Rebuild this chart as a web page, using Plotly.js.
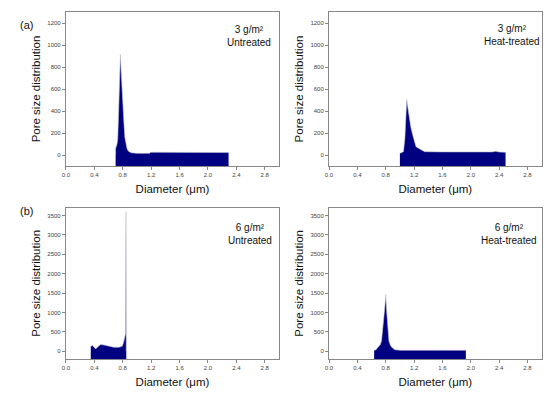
<!DOCTYPE html>
<html>
<head>
<meta charset="utf-8">
<script src="https://cdn.plot.ly/plotly-3.0.1.min.js"></script>
<style>html,body{margin:0;padding:0;background:#fff;}#chart{width:554px;height:395px;}</style>
</head>
<body>
<div id="chart"></div>
<script>
// Panel (a) left: 3 g/m2 untreated
const a1_x = [0.70, 0.70, 0.72, 0.73, 0.745, 0.755, 0.767, 0.775, 0.785, 0.795, 0.805, 0.818, 0.83, 0.845, 0.86, 0.88, 0.92, 1.0, 1.18, 1.19, 1.6, 2.0, 2.29];
const a1_y = [0, 60, 100, 150, 450, 700, 918, 800, 650, 550, 400, 280, 160, 90, 60, 35, 20, 15, 15, 25, 25, 24, 22];
// Panel (a) right: 3 g/m2 heat-treated
const a2_x = [1.00, 1.03, 1.05, 1.07, 1.085, 1.096, 1.11, 1.133, 1.155, 1.18, 1.205, 1.227, 1.28, 1.35, 1.6, 2.0, 2.3, 2.35, 2.4, 2.49];
const a2_y = [15, 20, 30, 150, 400, 505, 440, 336, 250, 183, 120, 76, 55, 30, 28, 27, 28, 33, 27, 25];
// Panel (b) left: 6 g/m2 untreated
const b1_x = [0.350, 0.373, 0.396, 0.420, 0.452, 0.490, 0.536, 0.606, 0.676, 0.746, 0.793, 0.812, 0.830, 0.840, 0.846, 0.850];
const b1_y = [128, 146, 103, 60, 120, 172, 163, 128, 103, 103, 128, 231, 446, 460, 3600, 0];
// Panel (b) right: 6 g/m2 heat-treated
const b2_x = [0.637, 0.66, 0.684, 0.72, 0.74, 0.763, 0.781, 0.795, 0.80, 0.805, 0.814, 0.828, 0.846, 0.87, 0.893, 0.93, 1.0, 1.5, 1.93];
const b2_y = [25, 35, 87, 160, 255, 597, 1020, 1300, 1460, 1300, 1020, 597, 255, 140, 87, 40, 25, 25, 25];

const xTicks = [0.0, 0.4, 0.8, 1.2, 1.6, 2.0, 2.4, 2.8];
const yTicksTop = [0, 200, 400, 600, 800, 1000, 1200];
const yTicksBottom = [0, 500, 1000, 1500, 2000, 2500, 3000, 3500];
const xRange = [0, 3.0];
const yRangeTop = [-100, 1300];
const yRangeBottom = [-200, 3700];

const labels = ["(a)", "(b)"];
const notes = ["3 g/m²<br>Untreated", "3 g/m²<br>Heat-treated", "6 g/m²<br>Untreated", "6 g/m²<br>Heat-treated"];
const xTitle = "Diameter (μm)";
const yTitle = "Pore size distribution";

const FILL = '#000080';
const panels = [
  {x: a1_x, y: a1_y, xa: 'x', ya: 'y', ymin: yRangeTop[0]},
  {x: a2_x, y: a2_y, xa: 'x2', ya: 'y2', ymin: yRangeTop[0]},
  {x: b1_x, y: b1_y, xa: 'x3', ya: 'y3', ymin: yRangeBottom[0]},
  {x: b2_x, y: b2_y, xa: 'x4', ya: 'y4', ymin: yRangeBottom[0]}
];
const traces = [];
panels.forEach(p => {
  traces.push({x: [p.x[0], p.x[p.x.length - 1]], y: [p.ymin, p.ymin], xaxis: p.xa, yaxis: p.ya,
    mode: 'lines', line: {width: 0, color: FILL}, hoverinfo: 'skip', showlegend: false});
  traces.push({x: p.x, y: p.y, xaxis: p.xa, yaxis: p.ya, mode: 'lines', fill: 'tonexty',
    fillcolor: FILL, line: {width: 0.6, color: '#c8c8d0'}, showlegend: false});
});

const W = 554, H = 395;
const px = v => v / W, py = v => 1 - v / H;
const axisFont = {family: 'Liberation Sans, Arial, sans-serif', size: 6, color: '#444'};
const titleFont = {family: 'Liberation Sans, Arial, sans-serif', size: 11.5, color: '#111'};
function xa(domain, anchor) {
  return {domain: domain, anchor: anchor, range: xRange, tickvals: xTicks, ticktext: xTicks.map(v => v.toFixed(1)),
    ticks: 'outside', ticklen: 3, tickcolor: '#888', linecolor: '#888', linewidth: 1, mirror: true,
    showgrid: false, zeroline: false, tickfont: axisFont,
    title: {text: xTitle, font: titleFont, standoff: 7}};
}
function ya(domain, anchor, range, ticks) {
  return {domain: domain, anchor: anchor, range: range, tickvals: ticks,
    ticks: 'outside', ticklen: 3, tickcolor: '#888', linecolor: '#888', linewidth: 1, mirror: true,
    showgrid: false, zeroline: false, tickfont: axisFont,
    title: {text: yTitle, font: titleFont, standoff: 4}};
}
const dxL = [px(65.9), px(279)], dxR = [px(329), px(541.7)];
const dyT = [py(166), py(12)], dyB = [py(359), py(207.7)];
const noteFont = {family: 'Liberation Sans, Arial, sans-serif', size: 10, color: '#111'};
const note = (t, x, y) => ({text: t, xref: 'paper', yref: 'paper', x: px(x), y: py(y),
  xanchor: 'center', yanchor: 'middle', showarrow: false, font: noteFont});
const layout = {
  width: W, height: H, margin: {l: 0, r: 0, t: 0, b: 0},
  paper_bgcolor: '#fff', plot_bgcolor: '#fff', showlegend: false,
  xaxis: xa(dxL, 'y'), yaxis: ya(dyT, 'x', yRangeTop, yTicksTop),
  xaxis2: xa(dxR, 'y2'), yaxis2: ya(dyT, 'x2', yRangeTop, yTicksTop),
  xaxis3: xa(dxL, 'y3'), yaxis3: ya(dyB, 'x3', yRangeBottom, yTicksBottom),
  xaxis4: xa(dxR, 'y4'), yaxis4: ya(dyB, 'x4', yRangeBottom, yTicksBottom),
  annotations: [
    {text: labels[0], xref: 'paper', yref: 'paper', x: px(18), y: py(17), showarrow: false, font: {family: 'Liberation Sans, Arial, sans-serif', size: 11, color: '#111'}},
    {text: labels[1], xref: 'paper', yref: 'paper', x: px(18), y: py(211), showarrow: false, font: {family: 'Liberation Sans, Arial, sans-serif', size: 11, color: '#111'}},
    note(notes[0], 249, 35.5),
    note(notes[1], 512, 35),
    note(notes[2], 250, 234),
    note(notes[3], 509, 234)
  ]
};
Plotly.newPlot('chart', traces, layout, {staticPlot: true, displayModeBar: false});
</script>
</body>
</html>
